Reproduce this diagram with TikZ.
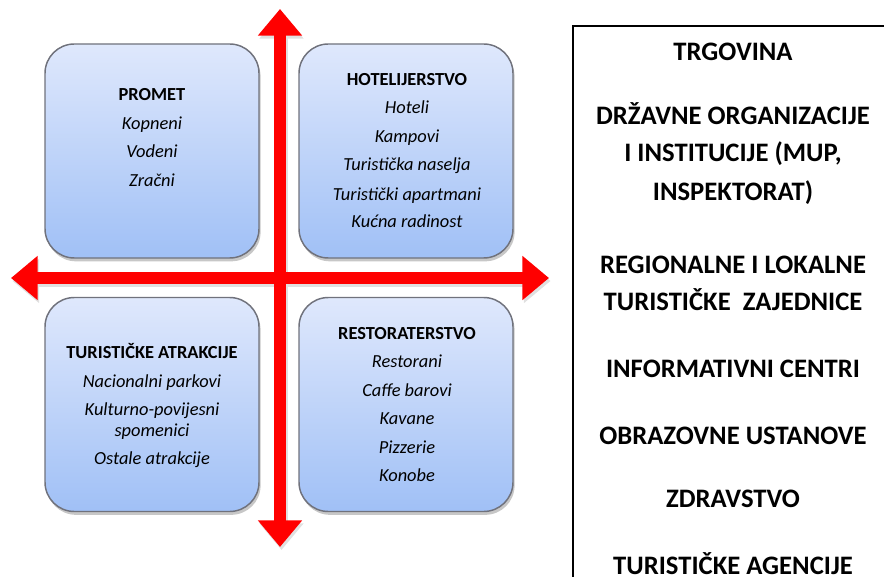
\documentclass[tikz,border=0pt]{standalone}
\usepackage{fontspec}
\setmainfont{Carlito}
\usetikzlibrary{arrows.meta,shadows}
\definecolor{boxtop}{RGB}{223,232,252}
\definecolor{boxbot}{RGB}{160,192,246}
\definecolor{boxline}{RGB}{112,114,124}
\definecolor{axred}{RGB}{255,0,0}
\begin{document}
\begin{tikzpicture}[x=0.75pt,y=-0.75pt,
  quad/.style={draw=boxline, line width=1.1pt, rounded corners=22pt,
    minimum width=160.5pt, minimum height=160.5pt, inner sep=0pt,
    top color=boxtop, bottom color=boxbot,
    drop shadow={shadow xshift=1.2pt,shadow yshift=-2.5pt,opacity=0.22,fill=black}},
  head/.style={font=\fontsize{13.8}{16}\selectfont\bfseries, anchor=base, inner sep=0pt},
  item/.style={font=\fontsize{13.8}{16}\selectfont\itshape, anchor=base, inner sep=0pt},
  side/.style={font=\fontsize{20}{24}\selectfont\bfseries, anchor=base, inner sep=0pt},
  axis/.style={draw=axred, line width=9pt, {Triangle[length=20pt,width=32pt]}-{Triangle[length=20pt,width=32pt]}},
  axshadow/.style={draw=black!12, line width=9pt, {Triangle[length=20pt,width=32pt]}-{Triangle[length=20pt,width=32pt]}}
]
\useasboundingbox (0,0) rectangle (884,577);

% quadrant boxes
\node[quad] (tl) at (152,151) {};
\node[quad] (tr) at (406,151) {};
\node[quad] (bl) at (152,404.5) {};
\node[quad] (br) at (406,404.5) {};

% axes
\coordinate (vt) at (280,9);
\coordinate (vb) at (280,547);
\coordinate (hl) at (11,278);
\coordinate (hr) at (549,278);
\draw[axshadow] ([shift={(1.5,3)}]vt) -- ([shift={(1.5,3)}]vb);
\draw[axshadow] ([shift={(1.5,3)}]hl) -- ([shift={(1.5,3)}]hr);
\draw[axis] (hl) -- (hr);
\draw[axis] (vt) -- (vb);

% PROMET
\node[head] (p0) at (152,101) {PROMET};
\node[item] (p1) at (152,130) {Kopneni};
\node[item] (p2) at (152,158) {Vodeni};
\node[item] (p3) at (152,187) {Zračni};

% HOTELIJERSTVO
\node[head] (h0) at (407,86) {HOTELIJERSTVO};
\node[item] (h1) at (407,114) {Hoteli};
\node[item] (h2) at (407,143) {Kampovi};
\node[item] (h3) at (407,171) {Turistička naselja};
\node[item] (h4) at (407,200) {Turistički apartmani};
\node[item] (h5) at (407,228) {Kućna radinost};

% TURISTICKE ATRAKCIJE
\node[head] (a0) at (152,358) {TURISTIČKE ATRAKCIJE};
\node[item] (a1) at (152,387) {Nacionalni parkovi};
\node[item] (a2) at (152,415) {Kulturno-povijesni};
\node[item] (a3) at (152,436) {spomenici};
\node[item] (a4) at (152,464) {Ostale atrakcije};

% RESTORATERSTVO
\node[head] (r0) at (407,339) {RESTORATERSTVO};
\node[item] (r1) at (407,367) {Restorani};
\node[item] (r2) at (407,396) {Caffe barovi};
\node[item] (r3) at (407,424) {Kavane};
\node[item] (r4) at (407,453) {Pizzerie};
\node[item] (r5) at (407,481) {Konobe};

% right panel
\draw[line width=1pt] (895,26) -- (573,26) -- (573,590);
\node[side] (s1) at (733,61) {TRGOVINA};
\node[side] (s2) at (733,125) {DRŽAVNE ORGANIZACIJE};
\node[side] (s3) at (733,162) {I INSTITUCIJE (MUP,};
\node[side] (s4) at (733,201) {INSPEKTORAT)};
\node[side] (s5) at (733,273) {REGIONALNE I LOKALNE};
\node[side] (s6) at (733,310) {TURISTIČKE\ \ ZAJEDNICE};
\node[side] (s7) at (733,377) {INFORMATIVNI CENTRI};
\node[side] (s8) at (733,444) {OBRAZOVNE USTANOVE};
\node[side] (s9) at (733,507) {ZDRAVSTVO};
\node[side] (s10) at (733,574) {TURISTIČKE AGENCIJE};
\end{tikzpicture}
\end{document}
